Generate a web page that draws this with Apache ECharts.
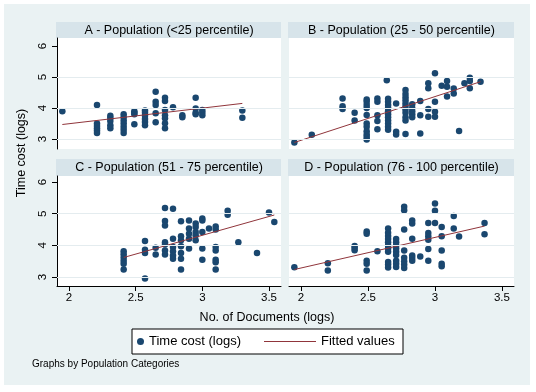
<!DOCTYPE html>
<html><head><meta charset="utf-8">
<script src="https://cdn.jsdelivr.net/npm/echarts@6/dist/echarts.min.js"></script>
<style>html,body{margin:0;padding:0;background:#fff}#c{width:536px;height:392px}</style>
</head><body><div id="c"></div>
<script>
// ---- data ----
const panelTitles = ['A - Population (<25 percentile)', 'B - Population (25 - 50 percentile)',
  'C - Population (51 - 75 percentile)', 'D - Population (76 - 100 percentile)'];
const xTicks = [2, 2.5, 3, 3.5];
const yTicks = [3, 4, 5, 6];
const gridValues = [3, 4, 5];
const seriesNames = ['Time cost (logs)', 'Fitted values'];
const xTitle = 'No. of Documents (logs)';
const yTitle = 'Time cost (logs)';
const note = 'Graphs by Population Categories';

const ptsA = [[1.95,3.9],
 [2.21,4.1],[2.21,3.5],[2.21,3.42],[2.21,3.35],[2.21,3.28],[2.21,3.2],
 [2.31,3.75],[2.31,3.68],[2.31,3.58],[2.31,3.45],[2.31,3.35],
 [2.41,3.8],[2.41,3.7],[2.41,3.6],[2.41,3.5],[2.41,3.4],[2.41,3.3],[2.41,3.2],
 [2.49,3.9],[2.49,3.85],[2.49,3.8],[2.49,3.48],
 [2.57,3.92],[2.57,3.85],[2.57,3.75],[2.57,3.65],[2.57,3.55],[2.57,3.45],
 [2.65,4.53],[2.65,4.2],[2.65,4.1],[2.65,3.83],[2.65,3.54],
 [2.72,4.33],[2.72,4.23],[2.72,3.94],[2.72,3.77],[2.72,3.67],[2.72,3.51],[2.72,3.35],
 [2.78,4.03],[2.85,3.77],[2.85,3.7],
 [2.95,4.33],[2.95,3.99],[2.95,3.85],[2.95,3.8],
 [3.0,3.94],[3.0,3.86],[3.0,3.77],
 [3.3,3.92],[3.3,3.69]];
const fitA = [[1.95,3.47],[3.3,4.15]];

const ptsB = [[1.95,2.89],[2.08,3.14],
 [2.31,4.31],[2.31,4.06],[2.31,3.97],
 [2.4,3.85],[2.4,3.6],
 [2.49,4.28],[2.49,4.2],[2.49,4.1],[2.49,4.0],[2.49,3.78],[2.49,3.5],[2.49,3.4],[2.49,3.25],[2.49,3.15],[2.49,3.07],[2.49,2.99],
 [2.57,4.31],[2.57,4.2],[2.57,3.77],[2.57,3.58],[2.57,3.32],
 [2.64,4.9],
 [2.65,4.3],[2.65,4.2],[2.65,4.1],[2.65,4.0],[2.65,3.9],[2.65,3.8],[2.65,3.7],[2.65,3.6],[2.65,3.5],[2.65,3.4],[2.65,3.3],
 [2.71,4.15],[2.71,3.24],[2.71,3.15],
 [2.78,4.58],[2.78,4.45],[2.78,4.35],[2.78,4.25],[2.78,4.15],[2.78,4.05],[2.78,3.95],[2.78,3.85],[2.78,3.7],[2.78,3.6],[2.78,3.16],
 [2.83,4.12],[2.83,4.0],[2.83,3.9],[2.83,3.8],[2.83,3.7],
 [2.89,4.23],[2.89,3.77],[2.89,3.18],
 [2.95,4.8],[2.95,4.64],[2.95,3.97],[2.95,3.72],
 [3.0,5.12],[3.0,4.2],[3.0,3.88],[3.0,3.72],
 [3.05,4.72],
 [3.09,4.87],[3.09,4.69],[3.09,4.37],
 [3.14,4.63],[3.14,4.47],
 [3.18,3.26],[3.22,4.8],
 [3.26,4.98],[3.26,4.87],[3.26,4.64],
 [3.34,4.85]];
const fitB = [[1.95,2.89],[3.34,4.85]];

const ptsC = [[2.41,3.82],[2.41,3.72],[2.41,3.62],[2.41,3.52],[2.41,3.42],[2.41,3.24],
 [2.57,4.14],[2.57,3.86],[2.57,3.76],[2.57,2.96],
 [2.65,3.93],[2.65,3.71],
 [2.72,5.18],[2.72,4.77],[2.72,4.63],[2.72,4.1],[2.72,4.03],[2.72,3.84],[2.72,3.71],
 [2.78,5.16],[2.78,4.21],[2.78,3.95],[2.78,3.82],[2.78,3.68],[2.78,3.58],
 [2.84,4.76],[2.84,4.29],[2.84,4.16],[2.84,3.97],[2.84,3.76],[2.84,3.58],[2.84,3.24],
 [2.9,4.79],[2.9,4.53],[2.9,4.37],[2.9,4.21],[2.9,3.9],
 [2.95,4.69],[2.95,4.58],[2.95,4.42],[2.95,4.32],[2.95,4.16],
 [3.0,4.85],[3.0,4.79],[3.0,4.42],[3.0,3.9],[3.0,3.55],
 [3.05,4.53],
 [3.1,4.6],[3.1,4.5],[3.1,3.95],[3.1,3.84],[3.1,3.55],[3.1,3.47],[3.1,3.24],
 [3.19,5.09],[3.19,4.97],
 [3.27,4.1],[3.41,3.76],
 [3.5,5.04],[3.54,4.74]];
const fitC = [[2.41,3.62],[3.54,4.96]];

const ptsD = [[1.95,3.31],
 [2.2,3.44],[2.2,3.21],
 [2.4,3.98],[2.4,3.92],[2.4,3.85],
 [2.49,4.44],[2.49,4.37],[2.49,3.52],[2.49,3.42],[2.49,3.21],
 [2.57,3.82],
 [2.65,4.53],[2.65,4.4],[2.65,4.3],[2.65,4.2],[2.65,4.1],[2.65,4.0],[2.65,3.9],[2.65,3.8],[2.65,3.48],[2.65,3.4],[2.65,3.3],
 [2.71,4.2],[2.71,4.1],[2.71,4.0],[2.71,3.9],[2.71,3.8],[2.71,3.7],[2.71,3.52],[2.71,3.42],[2.71,3.32],
 [2.77,5.22],[2.77,5.11],[2.77,4.5],[2.77,3.84],[2.77,3.61],[2.77,3.5],[2.77,3.4],[2.77,3.29],
 [2.83,4.79],[2.83,4.69],[2.83,4.21],[2.83,3.68],[2.83,3.6],[2.83,3.52],
 [2.89,3.65],
 [2.95,4.71],[2.95,4.39],[2.95,4.29],[2.95,4.18],[2.95,3.89],[2.95,3.52],
 [3.0,5.32],[3.0,5.09],[3.0,4.71],
 [3.05,4.58],[3.05,4.29],[3.05,3.84],[3.05,3.42],[3.05,3.34],
 [3.14,4.93],[3.14,4.53],
 [3.18,4.28],
 [3.37,4.71],[3.37,4.35]];
const fitD = [[1.95,3.24],[3.37,4.61]];

// ---- layout / style ----
const FONT = 'Liberation Sans, Arial, sans-serif';
const BG = '#EAF2F3', BAND = '#D7E4EA', NAVY = '#1A476F', MAROON = '#90353B';
const grids = [
  {left: 57, top: 38, width: 224, height: 111},
  {left: 289, top: 38, width: 225, height: 111},
  {left: 57, top: 176, width: 224, height: 110},
  {left: 289, top: 176, width: 225, height: 110}
];
const yRange = [[2.68, 6.26], [2.68, 6.26], [2.72, 6.19], [2.72, 6.19]];
const pts = [ptsA, ptsB, ptsC, ptsD];
const fits = [fitA, fitB, fitC, fitD];

const chart = echarts.init(document.getElementById('c'), null, {renderer: 'canvas'});

const xAxis = grids.map((g, i) => ({
  type: 'value', gridIndex: i, min: 1.91, max: 3.59,
  splitLine: {show: false},
  axisLine: {show: i >= 2, onZero: false, lineStyle: {color: '#000', width: 1}},
  axisTick: {show: i >= 2, length: 5, lineStyle: {color: '#000'}, customValues: xTicks},
  axisLabel: {show: i >= 2, customValues: xTicks, margin: 6, fontSize: 11.5, color: '#000', fontFamily: FONT,
    formatter: v => String(v)}
}));
const yAxis = grids.map((g, i) => ({
  type: 'value', gridIndex: i, min: yRange[i][0], max: yRange[i][1],
  splitLine: {show: false},
  axisLine: {show: i % 2 === 0, onZero: false, lineStyle: {color: '#000', width: 1}},
  axisTick: {show: i % 2 === 0, length: 5, lineStyle: {color: '#000'}, customValues: yTicks},
  axisLabel: {show: i % 2 === 0, customValues: yTicks, rotate: 90, margin: 8, fontSize: 11.5, color: '#000', fontFamily: FONT,
    formatter: v => String(v)}
}));

const series = [];
grids.forEach((g, i) => {
  series.push({
    type: 'line', name: 'grid' + i, xAxisIndex: i, yAxisIndex: i, data: [], z: 1, silent: true,
    markLine: {silent: true, symbol: ['none', 'none'], label: {show: false}, animation: false,
      lineStyle: {color: '#E4ECEF', type: 'solid', width: 1},
      data: gridValues.map(v => ({yAxis: v}))}
  });
  series.push({
    type: 'scatter', name: seriesNames[0], xAxisIndex: i, yAxisIndex: i, data: pts[i],
    symbol: 'circle', symbolSize: 6.5, itemStyle: {color: NAVY, opacity: 1}, z: 3
  });
  series.push({
    type: 'line', name: seriesNames[1], xAxisIndex: i, yAxisIndex: i, data: fits[i],
    symbol: 'none', showSymbol: false, lineStyle: {color: MAROON, width: 1}, itemStyle: {color: MAROON}, z: 4
  });
});

const graphic = [
  {type: 'rect', z: -100, silent: true, shape: {x: 4, y: 4, width: 526, height: 381}, style: {fill: BG}},
  {type: 'rect', z: 1, silent: true, shape: {x: 132, y: 329, width: 271, height: 25}, style: {fill: '#fff', stroke: '#000', lineWidth: 1}},
  {type: 'text', z: 5, x: 22, y: 153, rotation: Math.PI / 2,
    style: {text: yTitle, fill: '#000', font: '12.5px ' + FONT, align: 'center', verticalAlign: 'middle'}},
  {type: 'text', z: 5, x: 267, y: 318,
    style: {text: xTitle, fill: '#000', font: '12.5px ' + FONT, align: 'center', verticalAlign: 'middle'}},
  {type: 'text', z: 5, x: 32, y: 364,
    style: {text: note, fill: '#000', font: '10px ' + FONT, align: 'left', verticalAlign: 'middle'}}
];
grids.forEach((g, i) => {
  const top = i < 2 ? 22 : 159;
  const bandH = i < 2 ? 16 : 17;
  graphic.push({type: 'rect', z: 0, silent: true, shape: {x: g.left - 1, y: top, width: g.width + 1, height: bandH}, style: {fill: BAND}});
  graphic.push({type: 'text', z: 5, x: g.left + g.width / 2, y: top + bandH / 2 + 0.5,
    style: {text: panelTitles[i], fill: '#000', font: '12.5px ' + FONT, align: 'center', verticalAlign: 'middle'}});
});

chart.setOption({
  backgroundColor: '#fff',
  animation: false,
  grid: grids.map(g => Object.assign({show: true, backgroundColor: '#fff', borderWidth: 0}, g)),
  xAxis, yAxis, series, graphic,
  legend: [
    {data: [seriesNames[0]], left: 137, top: 335, padding: 0, itemWidth: 7, itemHeight: 7, icon: 'circle',
      selectedMode: false, textStyle: {fontSize: 13, color: '#000', fontFamily: FONT}},
    {data: [seriesNames[1]], icon: 'path://M0,0L52,0L52,1L0,1Z', left: 264, top: 335, padding: 0, itemWidth: 52, itemHeight: 14,
      selectedMode: false, itemStyle: {color: MAROON, borderWidth: 0}, textStyle: {fontSize: 13, color: '#000', fontFamily: FONT}}
  ]
});
</script>
</body></html>
